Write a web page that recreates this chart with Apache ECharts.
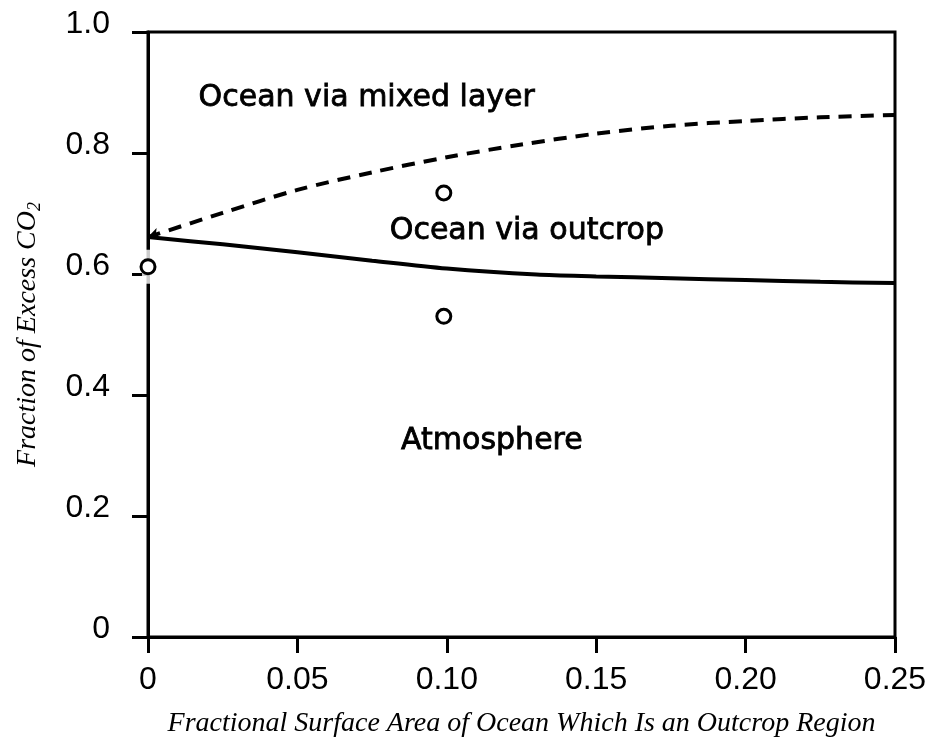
<!DOCTYPE html>
<html>
<head>
<meta charset="utf-8">
<script src="https://cdn.jsdelivr.net/npm/echarts@6/dist/echarts.min.js"></script>
<style>
html,body{margin:0;padding:0;background:#fff;}
#main{width:939px;height:744px;}
</style>
</head>
<body>
<div id="main"></div>
<script>
// ---- data ----
const xTicks = [0, 0.05, 0.10, 0.15, 0.20, 0.25];
const xTickLabels = ['0', '0.05', '0.10', '0.15', '0.20', '0.25'];
const yTickLabels = ['0', '0.2', '0.4', '0.6', '0.8', '1.0'];

const solidX = [0, 0.025, 0.05, 0.075, 0.10, 0.13, 0.15, 0.175, 0.20, 0.225, 0.25];
const solidY = [0.661, 0.649, 0.636, 0.622, 0.609, 0.599, 0.596, 0.593, 0.590, 0.587, 0.585];

const dashX = [0, 0.025, 0.05, 0.075, 0.10, 0.125, 0.15, 0.175, 0.20, 0.225, 0.25];
const dashY = [0.661, 0.701, 0.739, 0.768, 0.793, 0.814, 0.832, 0.845, 0.853, 0.859, 0.863];

const circleX = [0, 0.099, 0.099];
const circleY = [0.612, 0.734, 0.530];

const regionNames = ['Ocean via mixed layer', 'Ocean via outcrop', 'Atmosphere'];
const regionX = [0.0732, 0.1268, 0.1151];
const regionY = [0.891, 0.671, 0.324];

const xTitle = 'Fractional Surface Area of Ocean Which Is an Outcrop Region';
const yTitleMain = 'Fraction of Excess CO';
const yTitleSub = '2';

// ---- build ----
const zip = (a, b) => a.map((v, i) => [v, b[i]]);
const dashData = zip(dashX, dashY).map((p, i) => i === 0
  ? { value: p, symbol: 'arrow', symbolSize: [9, 11], symbolRotate: 108 }
  : { value: p, symbol: 'none' });

const chart = echarts.init(document.getElementById('main'), null, { renderer: 'canvas' });
const tickFont = 'Liberation Sans, Arial, sans-serif';
chart.setOption({
  animation: false,
  backgroundColor: '#fff',
  grid: {
    left: 148, right: 44, top: 32, bottom: 107,
    show: true, borderColor: '#000', borderWidth: 3, backgroundColor: 'transparent'
  },
  xAxis: {
    type: 'value', min: 0, max: 0.25, interval: 0.05,
    axisLine: { show: true, lineStyle: { color: '#000', width: 3 } },
    axisTick: { show: true, inside: false, length: 16, lineStyle: { color: '#000', width: 3 } },
    splitLine: { show: false },
    axisLabel: {
      margin: 27, color: '#000', fontSize: 32, fontFamily: tickFont,
      formatter: v => { const i = xTicks.findIndex(t => Math.abs(t - v) < 1e-9); return i >= 0 ? xTickLabels[i] : ''; }
    },
    name: xTitle, nameLocation: 'middle', nameGap: 73,
    nameTextStyle: { fontFamily: 'Liberation Serif, serif', fontStyle: 'italic', fontSize: 28, color: '#000' }
  },
  yAxis: {
    type: 'value', min: 0, max: 1.0, interval: 0.2,
    axisLine: { show: true, lineStyle: { color: '#000', width: 3 } },
    axisTick: { show: true, inside: false, length: 16, lineStyle: { color: '#000', width: 3 } },
    splitLine: { show: false },
    axisLabel: {
      margin: 38, color: '#000', fontSize: 32, fontFamily: tickFont,
      verticalAlign: 'bottom', lineHeight: 16,
      formatter: v => yTickLabels[Math.round(v / 0.2)]
    },
    name: '{m|' + yTitleMain + '}{s|' + yTitleSub + '}', nameLocation: 'middle', nameGap: 104,
    nameTextStyle: {
      rich: {
        m: { fontFamily: 'Liberation Serif, serif', fontStyle: 'italic', fontSize: 28, color: '#000', lineHeight: 32 },
        s: { fontFamily: 'Liberation Serif, serif', fontStyle: 'italic', fontSize: 18, color: '#000', verticalAlign: 'bottom', lineHeight: 24 }
      }
    }
  },
  series: [
    {
      type: 'line', data: zip(solidX, solidY), smooth: 0.3, symbol: 'none',
      lineStyle: { color: '#000', width: 4 }, z: 3
    },
    {
      type: 'line', data: dashData, smooth: 0.3,
      itemStyle: { color: '#000' },
      lineStyle: { color: '#000', width: 4, type: [13, 9] }, z: 3
    },
    {
      // white gap in the left axis around the point on it
      type: 'scatter', data: zip(circleX, circleY).filter(p => p[0] === 0),
      symbol: 'rect', symbolSize: [12, 34], itemStyle: { color: '#fff' }, z: 4, silent: true
    },
    {
      type: 'scatter', data: zip(circleX, circleY), symbol: 'circle', symbolSize: 14,
      itemStyle: { color: '#fff', borderColor: '#000', borderWidth: 3, opacity: 1 }, z: 5
    },
    {
      type: 'scatter', symbolSize: 0, z: 6,
      data: regionNames.map((n, i) => ({ name: n, value: [regionX[i], regionY[i]] })),
      label: {
        show: true, position: 'inside', formatter: p => p.name,
        fontFamily: 'DejaVu Sans, sans-serif', fontSize: 30, fontWeight: 'normal', color: '#000',
        textBorderColor: '#000', textBorderWidth: 0.8, opacity: 1
      }
    }
  ]
});
</script>
</body>
</html>
